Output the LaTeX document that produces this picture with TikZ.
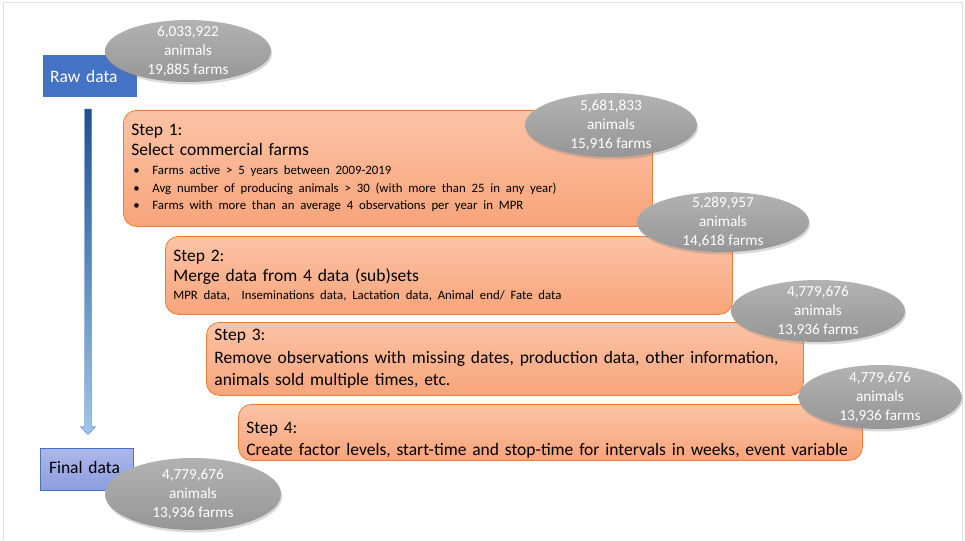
\documentclass[tikz,border=0pt]{standalone}
\usepackage{fontspec}
\setmainfont{Carlito}
\usetikzlibrary{calc,shapes.geometric,shadows}

\definecolor{rawblue}{RGB}{68,114,196}
\definecolor{fintop}{RGB}{172,184,234}
\definecolor{finbottom}{RGB}{140,158,222}
\definecolor{steptop}{RGB}{251,195,166}
\definecolor{stepbottom}{RGB}{248,164,122}
\definecolor{stepline}{RGB}{237,125,49}
\definecolor{counttop}{RGB}{178,178,178}
\definecolor{countbottom}{RGB}{150,150,150}
\definecolor{arrowtop}{RGB}{30,80,145}
\definecolor{arrowbottom}{RGB}{160,198,234}

\newcommand{\bul}{\hspace*{2pt}\makebox[19pt][l]{\textbullet}}

\begin{document}
\begin{tikzpicture}[x=1pt,y=-1pt,
	databox/.style={text width=80pt,align=left,minimum height=42pt,inner xsep=7pt,inner ysep=0pt,font=\fontsize{17.5}{20}\selectfont},
	stepbox/.style={draw=stepline,line width=0.8pt,rounded corners=13pt,top color=steptop,bottom color=stepbottom,
		anchor=north west,align=left,inner xsep=8pt,inner ysep=0pt,font=\fontsize{17.5}{20}\selectfont},
	count/.style={ellipse,inner sep=0pt,top color=counttop,bottom color=countbottom,
		drop shadow={opacity=0.3,shadow xshift=1pt,shadow yshift=-2.5pt}},
	counttext/.style={text=white,align=center,font=\fontsize{15.3}{19}\selectfont}]
		\useasboundingbox (0,0) rectangle (965,540);
		\draw[gray!25] (3,540) -- (3,2) -- (962,2) -- (962,540);
		% start and end
		\node[databox,fill=rawblue,text=white] (raw) at (90,76) {\raisebox{-2pt}{Raw data}};
		\node[databox,top color=fintop,bottom color=finbottom,draw=rawblue,line width=0.6pt,inner xsep=9pt,text width=75pt] (fin) at (86.5,469) {\raisebox{4pt}{Final data}};
		% the four steps
		\node[stepbox,text width=513pt,minimum height=116pt] (s1) at (123,110) {Step 1:\\Select commercial farms\par
			\fontsize{12.8}{19}\selectfont\bul Farms active > 5 years between 2009-2019\par
			\fontsize{12.8}{17.5}\selectfont\bul Avg number of producing animals > 30 (with more than 25 in any year)\par
			\bul Farms with more than an average 4 observations per year in MPR\par};
		\node[stepbox,text width=551pt,minimum height=78pt] (s2) at (165,236) {Step 2:\\Merge data from 4 data (sub)sets\par
			\fontsize{12.8}{18.5}\selectfont MPR data,\ \ Inseminations data, Lactation data, Animal end/ Fate data\par};
		\node[stepbox,text width=581pt,minimum height=73pt,font=\fontsize{17.5}{22.5}\selectfont] (s3) at (206,322) {Step 3:\\Remove observations with missing dates, production data, other information,\\animals sold multiple times, etc.};
		\node[stepbox,text width=608pt,minimum height=56pt,font=\fontsize{17.5}{22}\selectfont] (s4) at (238,404) {\rule{0pt}{28pt}Step 4:\\Create factor levels, start-time and stop-time for intervals in weeks, event variable};
		% arrow raw -> final
		\coordinate (atop) at ($(raw.south)+(-2,12)$);
		\coordinate (abot) at ($(fin.north)+(1.5,-13)$);
		\shade[top color=arrowtop,bottom color=arrowbottom,draw=rawblue,line width=0.4pt]
			($(atop)+(-3.5,0)$) -- ($(atop)+(3.5,0)$) -- ($(abot)+(3.5,-8)$) -- ($(abot)+(7.5,-8)$) -- (abot)
			-- ($(abot)+(-7.5,-8)$) -- ($(abot)+(-3.5,-8)$) -- cycle;
		% counts
		\node[count,minimum width=166pt,minimum height=62pt,label={[counttext]center:6,033,922\\animals\\19,885 farms}] (c0) at (188,51) {};
		\node[count,minimum width=172pt,minimum height=64pt,label={[counttext]center:5,681,833\\animals\\15,916 farms}] (c1) at (611,125) {};
		\node[count,minimum width=172pt,minimum height=60pt,label={[counttext]center:5,289,957\\animals\\14,618 farms}] (c2) at (723,222) {};
		\node[count,minimum width=174pt,minimum height=62pt,label={[counttext]center:4,779,676\\animals\\13,936 farms}] (c3) at (818,311) {};
		\node[count,minimum width=163pt,minimum height=64pt,label={[counttext]center:4,779,676\\animals\\13,936 farms}] (c4) at (880,397) {};
		\node[count,minimum width=176pt,minimum height=72pt,label={[counttext]center:4,779,676\\animals\\13,936 farms}] (c5) at (193,494) {};
\end{tikzpicture}
\end{document}
